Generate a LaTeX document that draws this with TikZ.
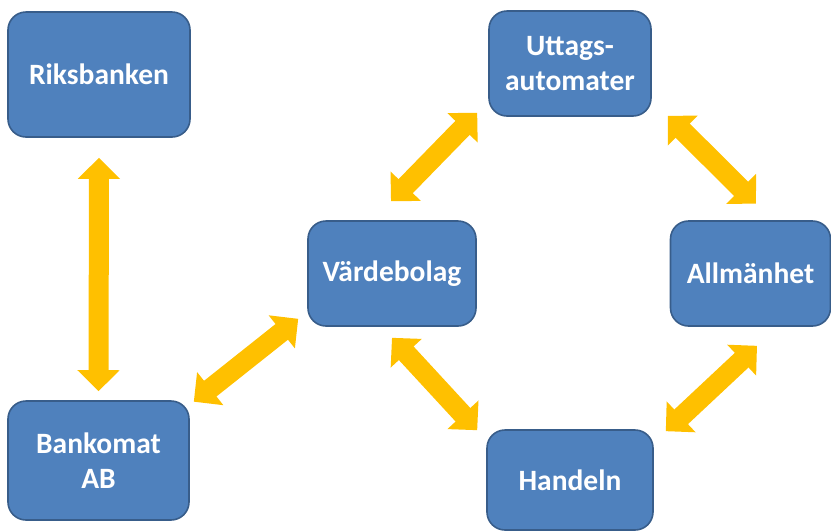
\documentclass[tikz,border=0pt]{standalone}
\usepackage{fontspec}
\setmainfont{Carlito}
\usetikzlibrary{arrows.meta}
\definecolor{boxblue}{HTML}{4F81BD}
\definecolor{boxline}{HTML}{385D8A}
\definecolor{flowgold}{HTML}{FFC000}

\begin{document}
\begin{tikzpicture}[x = 1pt, y = -1pt]
\tikzset{
   >={Triangle[width = 41pt, length = 21pt]},
   box/.style = {rectangle, draw = boxline, line width = 1.6pt, fill = boxblue, rounded corners = 18pt, text = white, align = center, font = \bfseries\fontsize{29.5}{35}\selectfont},
   flow/.style = {<->, draw = flowgold, line width = 20pt}
}
  \useasboundingbox (0,0) rectangle (831,531);

  \node [box, minimum width = 182pt, minimum height = 125pt] (rb) at (99,74.5) {Riksbanken};
  \node [box, minimum width = 181pt, minimum height = 119pt] (bk) at (98.5,460.5) {Bankomat\\AB};
  \node [box, minimum width = 168pt, minimum height = 105pt] (vb) at (392,273.5) {Värdebolag};
  \node [box, minimum width = 162pt, minimum height = 105pt] (ut) at (570,63.5) {Uttags-\\automater};
  \node [box, minimum width = 160pt, minimum height = 105pt] (al) at (750.5,273.5) {Allmänhet};
  \node [box, minimum width = 166pt, minimum height = 100pt] (hd) at (570,480) {Handeln};

  \draw [flow] ([shift = {(0,20)}]rb.south) -- ([shift = {(0,-9)}]bk.north);
  \draw [flow] ([shift = {(4,1.5)}]bk.north east) -- ([shift = {(-9,-8)}]vb.south west);
  \draw [flow] ([shift = {(-1,-19)}]vb.north) -- ([shift = {(-11,-4)}]ut.south west);
  \draw [flow] ([shift = {(16,-1)}]ut.south east) -- ([shift = {(5.5,-16.5)}]al.north);
  \draw [flow] ([shift = {(0,11)}]vb.south) -- ([shift = {(-9,1)}]hd.north west);
  \draw [flow] ([shift = {(12,2)}]hd.north east) -- ([shift = {(6.5,19)}]al.south);

\end{tikzpicture}
\end{document}
